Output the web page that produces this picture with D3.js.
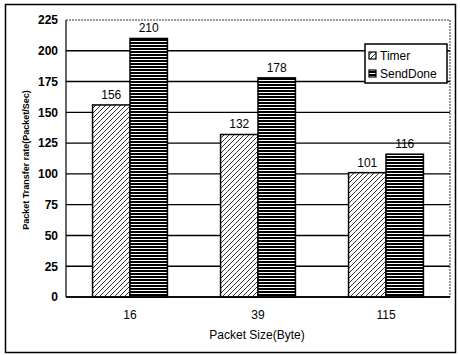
<!DOCTYPE html>
<html><head><meta charset="utf-8">
<script src="https://cdn.jsdelivr.net/npm/d3@7/dist/d3.min.js"></script>
<style>body{margin:0;background:#fff}svg{display:block;font-family:"Liberation Sans",Arial,sans-serif}</style>
</head><body><svg id="c" width="460" height="355"></svg>
<script>
const categories = ["16", "39", "115"];
const seriesNames = ["Timer", "SendDone"];
const timer = [156, 132, 101];
const sendDone = [210, 178, 116];
const yTicks = [0, 25, 50, 75, 100, 125, 150, 175, 200, 225];

const svg = d3.select("#c");
const m = {l: 66, r: 450, t: 20, b: 297};
const defs = svg.append("defs");
const hatch = defs.append("pattern").attr("id","hatch").attr("patternUnits","userSpaceOnUse")
  .attr("width",5).attr("height",5);
hatch.append("rect").attr("width",5).attr("height",5).attr("fill","#fff");
hatch.append("path").attr("d","M-1,1 l2,-2 M0,5 l5,-5 M4,6 l2,-2").attr("stroke","#000").attr("stroke-width",0.8);
const stripe = defs.append("pattern").attr("id","stripe").attr("patternUnits","userSpaceOnUse")
  .attr("width",4).attr("height",3);
stripe.append("rect").attr("width",4).attr("height",3).attr("fill","#fff");
stripe.append("rect").attr("width",4).attr("height",2).attr("fill","#000");

// outer frame
svg.append("rect").attr("x",5.5).attr("y",4.5).attr("width",450).attr("height",348)
  .attr("fill","none").attr("stroke","#000").attr("stroke-width",1.5);

const x0 = d3.scaleBand().domain(categories).range([m.l, m.r]).paddingInner(0).paddingOuter(0);
const x1 = d3.scaleBand().domain(seriesNames).range([0, x0.bandwidth()]).paddingOuter(0.71).paddingInner(0);
const y = d3.scaleLinear().domain([0,225]).range([m.b, m.t]);

// gridlines
const grid = svg.append("g");
yTicks.forEach(t => {
  grid.append("line").attr("x1",m.l).attr("x2",m.r).attr("y1",y(t)).attr("y2",y(t))
    .attr("stroke","#000").attr("stroke-width", t===225?0.8:1.4)
    .attr("stroke-dasharray", t===225?"2,1":null);
});
// left & right plot borders
svg.append("line").attr("x1",m.l).attr("x2",m.l).attr("y1",m.t).attr("y2",m.b).attr("stroke","#000").attr("stroke-width",1.2);
svg.append("line").attr("x1",m.r).attr("x2",m.r).attr("y1",m.t).attr("y2",m.b).attr("stroke","#000").attr("stroke-width",0.8).attr("stroke-dasharray","2,1");

const data = categories.map((c,i)=>({c, vals:[{s:"Timer",v:timer[i]},{s:"SendDone",v:sendDone[i]}]}));
const g = svg.append("g").selectAll("g").data(data).join("g").attr("transform",d=>`translate(${x0(d.c)},0)`);
g.selectAll("rect").data(d=>d.vals).join("rect")
  .attr("x",d=>x1(d.s)).attr("width",x1.bandwidth())
  .attr("y",d=>y(d.v)).attr("height",d=>y(0)-y(d.v))
  .attr("fill",d=>d.s==="Timer"?"url(#hatch)":"url(#stripe)")
  .attr("stroke","#000").attr("stroke-width",1.5);
g.selectAll("text").data(d=>d.vals).join("text")
  .attr("x",d=>x1(d.s)+x1.bandwidth()/2).attr("y",d=>y(d.v)-6)
  .attr("text-anchor","middle").attr("font-size",12).text(d=>d.v);

// bottom axis line
svg.append("line").attr("x1",m.l).attr("x2",m.r).attr("y1",y(0)).attr("y2",y(0)).attr("stroke","#000").attr("stroke-width",1.6);

// y axis
const ya = svg.append("g").attr("transform",`translate(${m.l},0)`)
  .call(d3.axisLeft(y).tickValues(yTicks).tickSize(0).tickPadding(8));
ya.select(".domain").remove();
ya.selectAll("text").attr("font-size",12).attr("font-weight","bold").attr("font-family","'Liberation Sans Narrow','Liberation Sans',sans-serif").attr("fill","#000");

// x axis
const xa = svg.append("g").attr("transform",`translate(0,${m.b})`)
  .call(d3.axisBottom(x0).tickSize(0).tickPadding(13));
xa.select(".domain").remove();
xa.selectAll("text").attr("font-size",12).attr("fill","#000");

svg.append("text").attr("x",257).attr("y",339).attr("text-anchor","middle").attr("font-size",12).text("Packet Size(Byte)");
svg.append("text").attr("transform","translate(29,160) rotate(-90)").attr("text-anchor","middle")
  .attr("font-size",9).attr("font-weight","bold").attr("font-family","'Liberation Sans Narrow','Liberation Sans',sans-serif").text("Packet Transfer rate(Packet/Sec)");

// legend
const lg = svg.append("g").attr("transform","translate(365,44)");
lg.append("rect").attr("width",82).attr("height",39).attr("fill","#fff").attr("stroke","#000").attr("stroke-width",1.5);
seriesNames.forEach((s,i)=>{
  lg.append("rect").attr("x",4).attr("y",8+i*18).attr("width",7).attr("height",7)
    .attr("fill",s==="Timer"?"url(#hatch)":"url(#stripe)").attr("stroke","#000").attr("stroke-width",1.2);
  lg.append("text").attr("x",15).attr("y",16+i*18).attr("font-size",12).text(s);
});
</script></body></html>
